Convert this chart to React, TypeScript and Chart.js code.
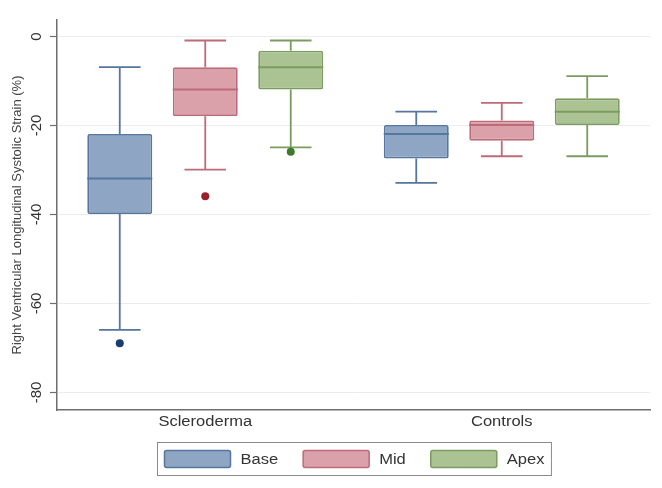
import React, { useEffect, useRef } from "react";
import { Chart, registerables } from "chart.js";

Chart.register(...registerables);

const categories = ["Scleroderma", "Controls"];
const seriesNames = ["Base", "Mid", "Apex"];

const baseWhiskerLow = [-66, -33];
const baseQ1 = [-40, -27.5];
const baseMedian = [-32, -22];
const baseQ3 = [-22, -20];
const baseWhiskerHigh = [-7, -17];
const baseOutliers = [[-69], []];

const midWhiskerLow = [-30, -27];
const midQ1 = [-18, -23.5];
const midMedian = [-12, -20];
const midQ3 = [-7, -19];
const midWhiskerHigh = [-1, -15];
const midOutliers = [[-36], []];

const apexWhiskerLow = [-25, -27];
const apexQ1 = [-12, -20];
const apexMedian = [-7, -17];
const apexQ3 = [-3.3, -14];
const apexWhiskerHigh = [-1, -9];
const apexOutliers = [[-26], []];

const yTicks = [0, -20, -40, -60, -80];

const fillColors = ["#8ea6c4", "#dba1aa", "#abc393"];
const strokeColors = ["#55769f", "#bd6b78", "#7c9b60"];
const outlierColors = ["#1b3c6e", "#9a1f2b", "#3e7a27"];

const stats = [
  { lo: baseWhiskerLow, q1: baseQ1, med: baseMedian, q3: baseQ3, hi: baseWhiskerHigh, out: baseOutliers },
  { lo: midWhiskerLow, q1: midQ1, med: midMedian, q3: midQ3, hi: midWhiskerHigh, out: midOutliers },
  { lo: apexWhiskerLow, q1: apexQ1, med: apexMedian, q3: apexQ3, hi: apexWhiskerHigh, out: apexOutliers },
];

const FONT = "'Liberation Sans', Arial, sans-serif";
const STRETCH = 1.18;

function stretchedText(ctx: any, text: string, x: number, y: number, align: "left" | "center") {
  const w = ctx.measureText(text).width * STRETCH;
  const left = align === "center" ? x - w / 2 : x;
  ctx.save();
  ctx.translate(left, y);
  ctx.scale(STRETCH, 1);
  ctx.textAlign = "left";
  ctx.fillText(text, 0, 0);
  ctx.restore();
  return w;
}

const boxPlugin = {
  id: "boxExtras",
  afterDatasetsDraw(chart: any) {
    const ctx = chart.ctx;
    const y = chart.scales.y;
    stats.forEach((s, di) => {
      const meta = chart.getDatasetMeta(di);
      meta.data.forEach((bar: any, ci: number) => {
        const x = bar.x;
        const w = bar.width;
        const capW = w * 0.64;
        const pHi = y.getPixelForValue(s.hi[ci]);
        const pLo = y.getPixelForValue(s.lo[ci]);
        const pQ1 = y.getPixelForValue(s.q1[ci]);
        const pQ3 = y.getPixelForValue(s.q3[ci]);
        const pMed = y.getPixelForValue(s.med[ci]);
        ctx.save();
        ctx.strokeStyle = strokeColors[di];
        ctx.lineWidth = 1.8;
        ctx.beginPath();
        ctx.moveTo(x, pQ3);
        ctx.lineTo(x, pHi);
        ctx.moveTo(x - capW / 2, pHi);
        ctx.lineTo(x + capW / 2, pHi);
        ctx.moveTo(x, pQ1);
        ctx.lineTo(x, pLo);
        ctx.moveTo(x - capW / 2, pLo);
        ctx.lineTo(x + capW / 2, pLo);
        ctx.stroke();
        ctx.lineWidth = 2;
        ctx.beginPath();
        ctx.moveTo(x - w / 2, pMed);
        ctx.lineTo(x + w / 2, pMed);
        ctx.stroke();
        s.out[ci].forEach((v: number) => {
          ctx.fillStyle = outlierColors[di];
          ctx.beginPath();
          ctx.arc(x, y.getPixelForValue(v), 4, 0, Math.PI * 2);
          ctx.fill();
        });
        ctx.restore();
      });
    });
  },
  afterDraw(chart: any) {
    const ctx = chart.ctx;
    const area = chart.chartArea;
    const yS = chart.scales.y;
    const xS = chart.scales.x;
    ctx.save();
    // y ticks and rotated labels
    ctx.strokeStyle = "#6e6e6e";
    ctx.lineWidth = 1.2;
    ctx.fillStyle = "#333333";
    ctx.font = `15px ${FONT}`;
    yTicks.forEach((v) => {
      const py = Math.round(yS.getPixelForValue(v)) + 0.5;
      ctx.beginPath();
      ctx.moveTo(area.left - 7, py);
      ctx.lineTo(area.left, py);
      ctx.stroke();
      ctx.save();
      ctx.translate(37, py);
      ctx.rotate(-Math.PI / 2);
      ctx.textAlign = "center";
      ctx.textBaseline = "middle";
      ctx.fillText(String(v), 0, 0);
      ctx.restore();
    });
    // category labels
    ctx.font = `14px ${FONT}`;
    ctx.textBaseline = "middle";
    categories.forEach((c, i) => {
      stretchedText(ctx, c, xS.getPixelForValue(i), 422, "center");
    });
    // legend
    const swW = 66;
    const swH = 17;
    const gapText = 10;
    const gapItem = 25;
    const pad = 7;
    const widths = seriesNames.map((n) => swW + gapText + ctx.measureText(n).width * STRETCH);
    const total = widths.reduce((a, b) => a + b, 0) + gapItem * (seriesNames.length - 1) + pad * 2;
    const cx = (area.left + area.right) / 2;
    const bx = Math.round(cx - total / 2) + 0.5;
    const by = 442.5;
    const bh = 33;
    ctx.strokeStyle = "#8a8a8a";
    ctx.lineWidth = 1;
    ctx.strokeRect(bx, by, total, bh);
    let x = bx + pad;
    seriesNames.forEach((n, i) => {
      const sy = by + (bh - swH) / 2;
      ctx.fillStyle = fillColors[i];
      ctx.strokeStyle = strokeColors[i];
      ctx.lineWidth = 1.5;
      ctx.beginPath();
      (ctx as any).roundRect(x, sy, swW, swH, 2);
      ctx.fill();
      ctx.stroke();
      ctx.fillStyle = "#333333";
      ctx.textBaseline = "middle";
      stretchedText(ctx, n, x + swW + gapText, by + bh / 2 + 1, "left");
      x += widths[i] + gapItem;
    });
    ctx.restore();
  },
};

export default function App() {
  const ref = useRef<HTMLCanvasElement | null>(null);
  useEffect(() => {
    if (!ref.current) return;
    const chart = new Chart(ref.current, {
      type: "bar",
      data: {
        labels: categories,
        datasets: seriesNames.map((name, i) => ({
          label: name,
          data: categories.map((_, ci) => [stats[i].q1[ci], stats[i].q3[ci]]),
          backgroundColor: fillColors[i],
          borderColor: strokeColors[i],
          borderWidth: 1.8,
          borderRadius: 2,
          borderSkipped: false,
          categoryPercentage: 0.865,
          barPercentage: 0.76,
        })),
      },
      options: {
        responsive: false,
        animation: false,
        layout: { padding: { left: 8, right: 12, top: 20, bottom: 53 } },
        plugins: {
          legend: { display: false },
          tooltip: { enabled: false },
        },
        scales: {
          x: {
            grid: { display: false },
            border: { display: true, color: "#6e6e6e", width: 1.5 },
            ticks: { display: false },
            afterFit: (s: any) => {
              s.height = 25;
            },
          },
          y: {
            min: -84,
            max: 3.6,
            afterBuildTicks: (s: any) => {
              s.ticks = yTicks.map((v) => ({ value: v }));
            },
            grid: { color: "#ececec", lineWidth: 1, drawTicks: false },
            border: { display: true, color: "#6e6e6e", width: 1.5 },
            ticks: { display: false },
            title: {
              display: true,
              text: "Right Ventricular Longitudinal Systolic Strain (%)",
              color: "#444444",
              font: { family: FONT, size: 13 },
              padding: { top: 2, bottom: 0 },
            },
            afterFit: (s: any) => {
              s.width = 49;
            },
          },
        },
      },
      plugins: [boxPlugin],
    });
    return () => chart.destroy();
  }, []);
  return (
    <div style={{ position: "fixed", left: 0, top: 0, width: 662, height: 488, background: "#fff" }}>
      <canvas ref={ref} width={662} height={488} style={{ width: 662, height: 488 }} />
    </div>
  );
}
